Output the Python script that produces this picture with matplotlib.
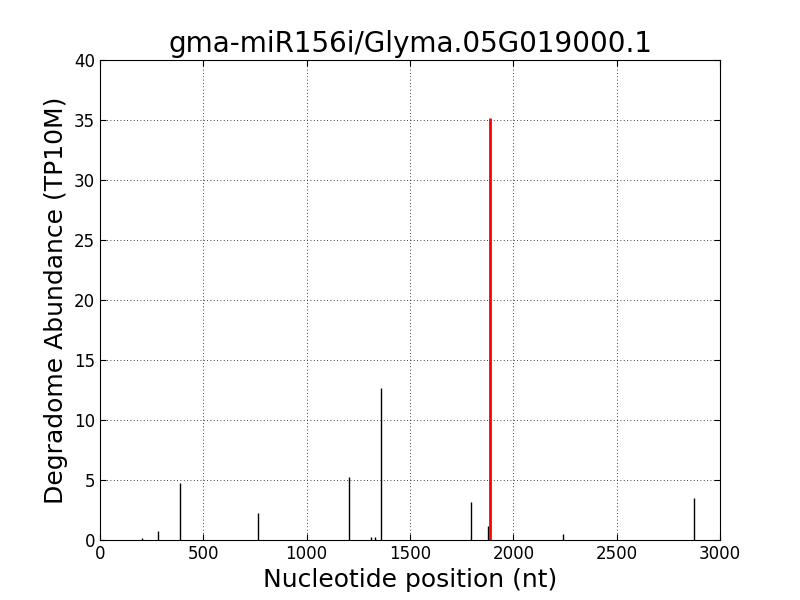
import matplotlib
matplotlib.use("Agg")
import matplotlib.pyplot as plt

# degradome peaks
positions = [205, 282, 389, 766, 1207, 1313, 1332, 1360, 1797, 1877, 2242, 2876]
abundance = [0.19, 0.72, 4.72, 2.22, 5.22, 0.22, 0.22, 12.67, 3.19, 1.19, 0.47, 3.47]
target_pos = 1887
target_abundance = 35.17

plt.rcParams['xtick.direction'] = 'in'
plt.rcParams['ytick.direction'] = 'in'
plt.rcParams['xtick.top'] = True
plt.rcParams['ytick.right'] = True
plt.rcParams['xtick.major.size'] = 4
plt.rcParams['ytick.major.size'] = 4

fig = plt.figure(figsize=(8, 6), dpi=100)
ax = fig.add_axes([0.125, 0.1, 0.775, 0.8])

ax.vlines(positions, 0, abundance, colors='black', linewidth=1)
ax.vlines([target_pos], 0, [target_abundance], colors='red', linewidth=2)

ax.set_xlim(0, 3000)
ax.set_ylim(0, 40)
ax.grid(True, color='black', linestyle=(0, (1, 3)), linewidth=0.6)
ax.tick_params(labelsize=12)
ax.set_title("gma-miR156i/Glyma.05G019000.1", fontsize=20)
ax.set_xlabel("Nucleotide position (nt)", fontsize=18)
ax.set_ylabel("Degradome Abundance (TP10M)", fontsize=18)

fig.savefig("out.png", dpi=100)
